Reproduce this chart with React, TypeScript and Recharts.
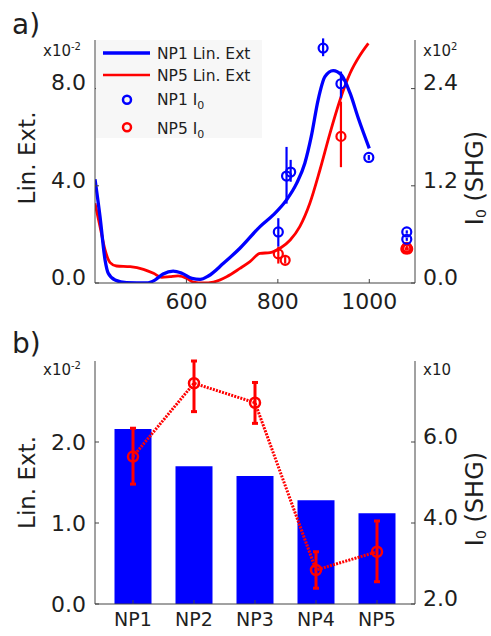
import React from 'react';
import { ComposedChart, Line, Scatter, Bar, XAxis, YAxis, ErrorBar, Legend } from 'recharts';

const FONT = '"DejaVu Sans", Verdana, sans-serif';
const INK = '#1e1e1e';
const FRAME = '#444444';
const BLUE = '#0000ff';
const RED = '#ff0000';

// ---------- panel a) : extinction spectra (left axis, x10^-2) ----------
const np1Wavelength = [400, 411, 422, 429, 444, 469, 513, 531, 549, 571, 590, 612, 630, 648, 681, 717, 761, 790, 819, 841, 859, 873, 888, 903, 921, 939, 958, 976, 1000];
const np1LinExt = [4.27, 2.73, 0.95, 0.4, 0.12, 0.01, 0.0, 0.12, 0.37, 0.49, 0.4, 0.19, 0.15, 0.29, 0.81, 1.43, 2.32, 2.8, 3.42, 4.1, 4.93, 6.02, 7.53, 8.49, 8.74, 8.56, 7.81, 6.78, 5.54];

const np5Wavelength = [400, 411, 422, 433, 447, 477, 506, 528, 546, 564, 582, 601, 615, 637, 659, 688, 717, 739, 761, 783, 805, 827, 848, 870, 892, 914, 936, 958, 980, 998];
const np5LinExt = [3.28, 2.32, 1.36, 0.84, 0.7, 0.67, 0.56, 0.4, 0.23, 0.26, 0.29, 0.19, 0.04, 0.0, 0.04, 0.26, 0.6, 0.88, 1.22, 1.25, 1.43, 1.77, 2.32, 3.28, 4.65, 6.16, 7.53, 8.63, 9.38, 9.86];

// ---------- panel a) : SHG intensities (right axis, x10^2) ----------
const np1ShgWavelength = [801, 819, 828, 899, 938, 999, 1082, 1082];
const np1Shg = [0.63, 1.32, 1.37, 2.9, 2.46, 1.55, 0.63, 0.54];
const np1ShgErrLow = [0.18, 0.34, 0.12, 0.1, 0.18, 0.03, 0.02, 0.02];
const np1ShgErrHigh = [0.17, 0.36, 0.15, 0.12, 0.15, 0.03, 0.02, 0.02];

const np5ShgWavelength = [801, 816, 938, 1080, 1082, 1084];
const np5Shg = [0.36, 0.28, 1.81, 0.42, 0.44, 0.42];
const np5ShgErrLow = [0.12, 0.04, 0.38, 0.02, 0.02, 0.02];
const np5ShgErrHigh = [0.09, 0.04, 0.43, 0.02, 0.02, 0.02];

const aXTicks = [600, 800, 1000];
const aLeftTicks = [0, 4, 8];
const aRightTicks = [0, 1.2, 2.4];

// ---------- panel b) ----------
const samples = ['NP1', 'NP2', 'NP3', 'NP4', 'NP5'];
const linExt = [2.16, 1.7, 1.58, 1.28, 1.12];
const shg = [5.64, 7.45, 6.97, 2.84, 3.29];
const shgErrLow = [0.68, 0.7, 0.51, 0.45, 0.74];
const shgErrHigh = [0.7, 0.55, 0.5, 0.45, 0.76];
const bLeftTicks = [0, 1, 2];
const bRightTicks = [2, 4, 6];

const legendLabels = ['NP1 Lin. Ext', 'NP5 Lin. Ext', 'NP1 I', 'NP5 I'];

// ---------- derived tables ----------
const np1Curve = np1Wavelength.map((x, i) => ({ x, v: np1LinExt[i] }));
const np5Curve = np5Wavelength.map((x, i) => ({ x, v: np5LinExt[i] }));
const np1Points = np1ShgWavelength.map((x, i) => ({ x, y: np1Shg[i], err: [np1ShgErrLow[i], np1ShgErrHigh[i]] }));
const np5Points = np5ShgWavelength.map((x, i) => ({ x, y: np5Shg[i], err: [np5ShgErrLow[i], np5ShgErrHigh[i]] }));
const barData = samples.map((name, i) => ({ name, linExt: linExt[i], shg: shg[i], err: [shgErrLow[i], shgErrHigh[i]] }));

const fmt1 = (v: number) => v.toFixed(1);
const tickStyle = (size: number, dy: number) => ({ fontSize: size, fill: INK, fontFamily: FONT, dy });

const ring = (color: string, r: number, w: number) => (p: any) => (
  <circle cx={p.cx} cy={p.cy} r={r} fill="none" stroke={color} strokeWidth={w} />
);

function LegendBox() {
  const t = { fontFamily: FONT, fontSize: 15.5, fill: INK } as const;
  return (
    <svg width={166} height={106} style={{ display: 'block', overflow: 'visible' }}>
      <rect x={0} y={0} width={166} height={98} fill="#f7f7f7" />
      <line x1={7} x2={54} y1={13} y2={13} stroke={BLUE} strokeWidth={3.5} />
      <text x={61} y={18.6} {...t}>{legendLabels[0]}</text>
      <line x1={7} x2={54} y1={35} y2={35} stroke={RED} strokeWidth={2.5} />
      <text x={61} y={40.6} {...t}>{legendLabels[1]}</text>
      <circle cx={31} cy={59.7} r={4} fill="none" stroke={BLUE} strokeWidth={2.5} />
      <text x={61} y={65.3} {...t}>{legendLabels[2]}<tspan dy={3.5} fontSize={11}>0</tspan></text>
      <circle cx={31} cy={87.3} r={4} fill="none" stroke={RED} strokeWidth={2.5} />
      <text x={61} y={94} {...t}>{legendLabels[3]}<tspan dy={3.5} fontSize={11}>0</tspan></text>
    </svg>
  );
}

function LeftDecor({ panel, cy, expLabel }: { panel: string; cy: number; expLabel: number; [k: string]: any }) {
  return (
    <g fontFamily={FONT} fill={INK}>
      <text x={12} y={expLabel - 22.5} fontSize={28}>{panel}</text>
      <text x={43} y={expLabel} fontSize={15}>x10<tspan dy={-6} fontSize={10}>-2</tspan></text>
      <text x={35} y={cy} fontSize={23} textAnchor="middle" transform={`rotate(-90 35 ${cy})`}>Lin. Ext.</text>
    </g>
  );
}

function RightDecor({ cy, expLabel, sup }: { cy: number; expLabel: number; sup: string; [k: string]: any }) {
  return (
    <g fontFamily={FONT} fill={INK}>
      <text x={423} y={expLabel} fontSize={15}>x10{sup ? <tspan dy={-6} fontSize={10}>{sup}</tspan> : null}</text>
      <text x={483} y={cy} fontSize={24} textAnchor="middle" transform={`rotate(-90 483 ${cy})`}>
        I<tspan dy={3} fontSize={14}>0</tspan><tspan dy={-3}>{' (SHG)'}</tspan>
      </text>
    </g>
  );
}

const axisCommon = {
  axisLine: { stroke: FRAME, strokeWidth: 1 },
  tickLine: { stroke: FRAME, strokeWidth: 1 },
  tickSize: -4,
  allowDataOverflow: true,
};

export default function App() {
  return (
    <div style={{ position: 'absolute', left: 0, top: 0, width: 491, height: 636, background: '#ffffff' }}>
      <div style={{ position: 'absolute', left: 0, top: 0 }}>
        <ComposedChart width={491} height={318} margin={{ top: 40, right: 0, bottom: 0, left: 0 }}>
          <XAxis
            xAxisId="b" type="number" dataKey="x" domain={[400, 1100]} ticks={aXTicks}
            height={35} tickMargin={14} tick={tickStyle(22, 0)} {...axisCommon}
          />
          <XAxis
            xAxisId="t" orientation="top" type="number" dataKey="x" domain={[400, 1100]} ticks={aXTicks}
            height={0} tick={false} {...axisCommon}
          />
          <YAxis
            yAxisId="l" orientation="left" type="number" domain={[0, 10]} ticks={aLeftTicks} width={95}
            tickMargin={13} tick={tickStyle(22, -6)} tickFormatter={fmt1} {...axisCommon}
            label={<LeftDecor panel="a)" cy={158} expLabel={56} />}
          />
          <YAxis
            yAxisId="r" orientation="right" type="number" domain={[0, 3]} ticks={aRightTicks} width={76}
            tickMargin={12} tick={tickStyle(22, -6)} tickFormatter={fmt1} {...axisCommon}
            label={<RightDecor cy={178} expLabel={56} sup="2" />}
          />
          <Line xAxisId="b" yAxisId="l" data={np5Curve} dataKey="v" type="monotone" stroke={RED} strokeWidth={2.8} dot={false} activeDot={false} isAnimationActive={false} />
          <Line xAxisId="b" yAxisId="l" data={np1Curve} dataKey="v" type="monotone" stroke={BLUE} strokeWidth={3.3} dot={false} activeDot={false} isAnimationActive={false} />
          <Scatter xAxisId="b" yAxisId="r" data={np5Points} dataKey="y" shape={ring(RED, 4.5, 2.2)} isAnimationActive={false}>
            <ErrorBar dataKey="err" direction="y" width={0} stroke={RED} strokeWidth={2.2} />
          </Scatter>
          <Scatter xAxisId="b" yAxisId="r" data={np1Points} dataKey="y" shape={ring(BLUE, 4.5, 2.2)} isAnimationActive={false}>
            <ErrorBar dataKey="err" direction="y" width={0} stroke={BLUE} strokeWidth={2.2} />
          </Scatter>
          <Legend
            layout="vertical" align="center" verticalAlign="middle"
            content={<LegendBox />}
            wrapperStyle={{ left: 96, top: 40, width: 166, height: 106 }}
          />
        </ComposedChart>
      </div>
      <div style={{ position: 'absolute', left: 0, top: 320 }}>
        <ComposedChart width={491} height={316} data={barData} margin={{ top: 41, right: 0, bottom: 0, left: 0 }}>
          <XAxis
            xAxisId="b" type="category" dataKey="name" padding={{ left: 7.5, right: 7.5 }}
            height={32} tickMargin={13} tick={tickStyle(19, 0)} {...axisCommon}
          />
          <XAxis
            xAxisId="t" orientation="top" type="category" dataKey="name" padding={{ left: 7.5, right: 7.5 }}
            height={0} tick={false} {...axisCommon}
          />
          <YAxis
            yAxisId="l" orientation="left" type="number" domain={[0, 3]} ticks={bLeftTicks} width={95}
            tickMargin={13} tick={tickStyle(22, 0)} tickFormatter={fmt1} {...axisCommon}
            label={<LeftDecor panel="b)" cy={162.5} expLabel={55} />}
          />
          <YAxis
            yAxisId="r" orientation="right" type="number" domain={[2, 8]} ticks={bRightTicks} width={76}
            tickMargin={12} tick={tickStyle(22, -6)} tickFormatter={fmt1} {...axisCommon}
            label={<RightDecor cy={179} expLabel={55} sup="" />}
          />
          <Bar xAxisId="b" yAxisId="l" dataKey="linExt" fill={BLUE} barSize={37} isAnimationActive={false} />
          <Line
            xAxisId="b" yAxisId="r" dataKey="shg" type="linear" stroke={RED} strokeWidth={3}
            strokeDasharray="2 1.2" activeDot={false} isAnimationActive={false}
            dot={(p: any) => <circle key={`dot-${p.index}`} cx={p.cx} cy={p.cy} r={5} fill="none" stroke={RED} strokeWidth={2.5} />}
          >
            <ErrorBar dataKey="err" direction="y" width={3} stroke={RED} strokeWidth={3} />
          </Line>
        </ComposedChart>
      </div>
    </div>
  );
}
